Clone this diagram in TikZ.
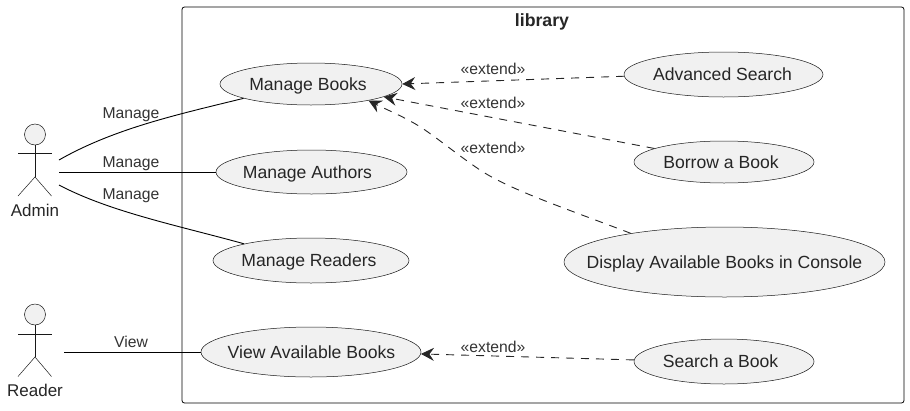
\documentclass[tikz,border=0pt]{standalone}
\usepackage{fontspec}
\setmainfont{Liberation Sans}
\usetikzlibrary{shapes.geometric,arrows.meta}
\definecolor{ufill}{HTML}{F1F1F1}
\definecolor{uline}{HTML}{181818}
\newcommand{\uctext}[2][0pt]{\makebox[0pt]{\hspace*{#1}\raisebox{-6.2pt}[0pt][0pt]{#2}}}
\tikzset{
  usecase/.style={ellipse,draw=uline,fill=ufill,line width=0.5pt,inner sep=0pt,font=\fontsize{17.6}{20}\selectfont,text=black!85},
  actorpart/.style={draw=uline,line width=0.5pt},
  actorname/.style={font=\fontsize{17}{20}\selectfont,text=black!85,inner sep=0pt},
  assoc/.style={draw=black,line width=0.9pt},
  extendline/.style={draw=black!85,line width=0.9pt,dash pattern=on 8pt off 7pt,
    -{Stealth[inset=4.5pt,length=13pt,width=13pt,line width=0.8pt]}},
  edgelabel/.style={font=\fontsize{15.7}{18}\selectfont,text=black!80,inner sep=0pt},
}
\begin{document}
\begin{tikzpicture}[x=1pt,y=-1pt]
\useasboundingbox (0,0) rectangle (910,410);
\node[draw=black,line width=0.8pt,rounded corners=2.5pt,minimum width=722pt,minimum height=396pt,inner sep=0pt] (library) at (543,205) {};
\node[font=\bfseries\fontsize{17.7}{20}\selectfont,text=black!85,inner sep=0pt] (librarytitle) at (542,22) {library};

% Use cases
\node[usecase,minimum width=182pt,minimum height=42pt] (mb) at (311,84) {\uctext[-6pt]{Manage Books}};
\node[usecase,minimum width=191pt,minimum height=44pt] (ma) at (311.5,172) {\uctext[-8pt]{Manage Authors}};
\node[usecase,minimum width=196pt,minimum height=45pt] (mr) at (311,260.5) {\uctext[-4pt]{Manage Readers}};
\node[usecase,minimum width=220pt,minimum height=50pt] (va) at (311,352) {\uctext[1pt]{View Available Books}};
\node[usecase,minimum width=199pt,minimum height=45pt] (as) at (723.5,74.5) {\uctext[-2pt]{Advanced Search}};
\node[usecase,minimum width=180pt,minimum height=42pt] (bb) at (724,162) {\uctext[-6pt]{Borrow a Book}};
\node[usecase,minimum width=321pt,minimum height=70pt] (db) at (724.5,262) {\uctext{Display Available Books in Console}};
\node[usecase,minimum width=180pt,minimum height=45pt] (sb) at (724,361.5) {\uctext[-7pt]{Search a Book}};

% Admin actor
\node[circle,actorpart,fill=ufill,minimum size=21pt,inner sep=0pt] (adminhead) at (35,134.5) {};
\coordinate (adminhip) at (35,177);
\coordinate (adminarmL) at (18,153.5);
\coordinate (adminarmR) at (51.5,153.5);
\coordinate (adminlegL) at (18,196);
\coordinate (adminlegR) at (51.5,196);
\draw[actorpart] (adminhead.south) -- (adminhip);
\draw[actorpart] (adminarmL) -- (adminarmR);
\draw[actorpart] (adminlegL) -- (adminhip) -- (adminlegR);
\node[actorname] (adminname) at (35,210.5) {Admin};

% Reader actor
\node[circle,actorpart,fill=ufill,minimum size=21pt,inner sep=0pt] (readerhead) at (35,314.5) {};
\coordinate (readerhip) at (35,357);
\coordinate (readerarmL) at (18,334);
\coordinate (readerarmR) at (51.5,334);
\coordinate (readerlegL) at (18,376.5);
\coordinate (readerlegR) at (51.5,376.5);
\draw[actorpart] (readerhead.south) -- (readerhip);
\draw[actorpart] (readerarmL) -- (readerarmR);
\draw[actorpart] (readerlegL) -- (readerhip) -- (readerlegR);
\node[actorname] (readername) at (35,390.5) {Reader};

% Free ends by the actors
\coordinate (adminA) at (59,160);
\coordinate (adminB) at (59,172);
\coordinate (adminC) at (59,185);
\coordinate (readerA) at (64,352);

% Associations
\draw[assoc] (adminA) .. controls (115,128) and (180,114) .. (mb.192);
\draw[assoc] (adminB) -- (ma.west);
\draw[assoc] (adminC) .. controls (110,212) and (180,226) .. (mr.166.6);
\draw[assoc] (readerA) -- (va.west);

% Extends
\draw[extendline] (as.181) -- (mb.-0.5);
\draw[extendline] (bb.169.8) -- (mb.-10.7);
\draw[extendline] (db.163) .. controls (570,210) and (510,190) .. (480,170) .. controls (455,153) and (440,140) .. (422,128) .. controls (405,117) and (385,109) .. (mb.-16.5);
\draw[extendline] (sb.179) -- (va.-1);

% Labels
\node[edgelabel] (l1) at (131,115) {Manage};
\node[edgelabel] (l2) at (131,164) {Manage};
\node[edgelabel] (l3) at (131,196) {Manage};
\node[edgelabel] (l4) at (131,342) {View};
\node[edgelabel] (e1) at (493,69) {«extend»};
\node[edgelabel] (e2) at (493,103) {«extend»};
\node[edgelabel] (e3) at (493,148) {«extend»};
\node[edgelabel] (e4) at (493,347) {«extend»};
\end{tikzpicture}
\end{document}
